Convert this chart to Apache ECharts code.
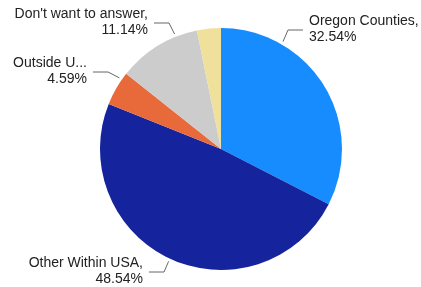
<!DOCTYPE html>
<html>
<head>
<meta charset="utf-8">
<script src="https://cdn.jsdelivr.net/npm/echarts@6/dist/echarts.min.js"></script>
<style>
    html, body { margin: 0; padding: 0; background: #fff; }
    #chart { width: 421px; height: 287px; }
</style>
</head>
<body>
<div id="chart"></div>
<script>
    var names = ['Oregon Counties', 'Other Within USA', 'Outside USA', "Don't want to answer", 'Other'];
    var labelNames = ['Oregon Counties,', 'Other Within USA,', 'Outside U...', "Don't want to answer,", ''];
    var values = [32.54, 48.54, 4.59, 11.14, 3.19];
    var colors = ['#168cff', '#15239c', '#e8693a', '#cccccc', '#efe09c'];
    var hideLabel = [false, false, false, false, true];
    // label placement: x, y (middle), align, angle where the leader touches the pie
    var labelPos = [
        [309, 29, 'left', 30],
        [143, 271, 'right', 205],
        [87, 71, 'right', 305],
        [148, 22, 'right', 338],
        [0, 0, 'left', 0]
    ];

    var cx = 221, cy = 149, r = 121;
    var chart = echarts.init(document.getElementById('chart'));
    var data = [];
    for (var i = 0; i < names.length; i++) {
        data.push({
            name: names[i],
            value: values[i],
            itemStyle: {color: colors[i]},
            label: {show: !hideLabel[i]},
            labelLine: {show: !hideLabel[i]}
        });
    }
    chart.setOption({
        animation: false,
        series: [
            {
                type: 'pie',
                center: [cx, cy],
                radius: [0, r],
                startAngle: 90,
                clockwise: true,
                data: data,
                label: {
                    formatter: function (p) {
                        return labelNames[p.dataIndex] + '\n' + p.value.toFixed(2) + '%';
                    },
                    overflow: 'none',
                    fontFamily: 'Liberation Sans, Arial, sans-serif',
                    fontSize: 14,
                    lineHeight: 16,
                    color: '#222'
                },
                labelLine: {
                    lineStyle: {color: '#666', width: 1}
                },
                labelLayout: function (p) {
                    var lp = labelPos[p.dataIndex];
                    var dir = lp[2] === 'left' ? -1 : 1;
                    var a = lp[3] * Math.PI / 180;
                    var ly = lp[1] + 1;
                    var endX = lp[0] + dir * 6;
                    var elbowX = endX + dir * 15;
                    return {
                        x: lp[0],
                        y: lp[1],
                        align: lp[2],
                        verticalAlign: 'middle',
                        labelLinePoints: [
                            [cx + (r + 3) * Math.sin(a), cy - (r + 3) * Math.cos(a)],
                            [elbowX, ly],
                            [endX, ly]
                        ]
                    };
                }
            }
        ]
    });
</script>
</body>
</html>
